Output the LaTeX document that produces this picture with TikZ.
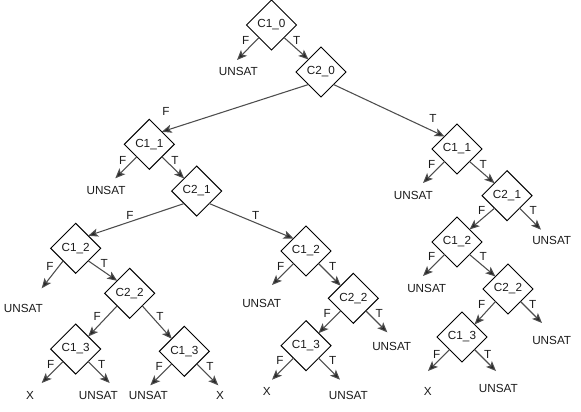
\documentclass[tikz,border=0pt]{standalone}
\usepackage{fontspec}
\setmainfont{Liberation Sans}
\usetikzlibrary{shapes.geometric,arrows.meta,calc}
\definecolor{edgec}{HTML}{4D4D4D}
\definecolor{txtc}{HTML}{1A1A1A}
\begin{document}
\begin{tikzpicture}[x=0.75pt,y=-0.75pt,
  dia/.style={shape=diamond, draw=black, line width=0.75pt, minimum width=37.5pt,
    minimum height=37.5pt, inner sep=0pt, outer sep=0pt, text=txtc,
    font=\fontsize{8.8}{10}\selectfont},
  leaf/.style={inner sep=0pt, text=txtc, font=\fontsize{8.8}{10}\selectfont},
  lbl/.style={inner sep=0pt, text=txtc, font=\fontsize{8.8}{10}\selectfont},
  arr/.style={draw=edgec, line width=0.8pt,
    -{Stealth[length=7.5pt,width=6.2pt,inset=1.8pt,fill=black!85]}}]
\useasboundingbox (0,0) rectangle (581,411);

% diamonds
\node[dia] (a0) at (271.5,25) {C1\_0};
\node[dia] (b0) at (321,72) {C2\_0};
\node[dia] (L1) at (149.3,144.3) {C1\_1};
\node[dia] (L2) at (196.7,191) {C2\_1};
\node[dia] (R1) at (457,149) {C1\_1};
\node[dia] (R2) at (507,195.7) {C2\_1};
\node[dia] (R3) at (457,242) {C1\_2};
\node[dia] (R4) at (508,289) {C2\_2};
\node[dia] (R5) at (462,337) {C1\_3};
\node[dia] (LL3) at (75.7,248.3) {C1\_2};
\node[dia] (LL4) at (129.7,293.3) {C2\_2};
\node[dia] (LL5a) at (75.7,349) {C1\_3};
\node[dia] (LL5b) at (184.3,351.3) {C1\_3};
\node[dia] (LM3) at (306,251) {C1\_2};
\node[dia] (LM4) at (353.3,298.3) {C2\_2};
\node[dia] (LM5) at (306,345.7) {C1\_3};

% leaf texts
\node[leaf] (U0) at (238.3,71.7) {UNSAT};
\node[leaf] (UL1) at (106,190) {UNSAT};
\node[leaf] (UR1) at (413.3,195) {UNSAT};
\node[leaf] (UR2) at (551.7,240.7) {UNSAT};
\node[leaf] (UR3) at (426.7,288.3) {UNSAT};
\node[leaf] (UR4) at (551.7,340.7) {UNSAT};
\node[leaf] (XR5) at (427.7,391.7) {X};
\node[leaf] (UR5) at (498.3,388.3) {UNSAT};
\node[leaf] (ULL3) at (23.3,308.3) {UNSAT};
\node[leaf] (XLL5a) at (30,395) {X};
\node[leaf] (ULL5a) at (98.3,395) {UNSAT};
\node[leaf] (ULL5b) at (148.3,395) {UNSAT};
\node[leaf] (XLL5b) at (220,395) {X};
\node[leaf] (ULM3) at (261.7,303.3) {UNSAT};
\node[leaf] (ULM4) at (391.7,346.7) {UNSAT};
\node[leaf] (XLM5) at (266.7,391.7) {X};
\node[leaf] (ULM5) at (348.3,395) {UNSAT};

% leaf arrow ends
\coordinate (tU0) at ($(a0)+(-34.5,35)$);
\coordinate (tUL1) at ($(L1)+(-34,34)$);
\coordinate (tUR1) at ($(R1)+(-34,34)$);
\coordinate (tUR2) at ($(R2)+(34,34)$);
\coordinate (tUR3) at ($(R3)+(-34,34)$);
\coordinate (tUR4) at ($(R4)+(34,34)$);
\coordinate (tXR5) at ($(R5)+(-34,34)$);
\coordinate (tUR5) at ($(R5)+(34,34)$);
\coordinate (tULL3) at ($(LL3)+(-34,40)$);
\coordinate (tXLL5a) at ($(LL5a)+(-34,34)$);
\coordinate (tULL5a) at ($(LL5a)+(34,34)$);
\coordinate (tULL5b) at ($(LL5b)+(-34,34)$);
\coordinate (tXLL5b) at ($(LL5b)+(34,34)$);
\coordinate (tULM3) at ($(LM3)+(-34,34)$);
\coordinate (tULM4) at ($(LM4)+(34,34)$);
\coordinate (tXLM5) at ($(LM5)+(-34,34)$);
\coordinate (tULM5) at ($(LM5)+(34,34)$);

% connectors
\draw[arr] (a0.south west) -- (tU0);
\draw[arr] (a0.south east) -- (b0.north west);
\draw[arr] (b0.south west) -- (L1.north east);
\draw[arr] (b0.south east) -- (R1.north west);
\draw[arr] (L1.south west) -- (tUL1);
\draw[arr] (L1.south east) -- (L2.north west);
\draw[arr] (L2.south west) -- (LL3.north east);
\draw[arr] (L2.south east) -- (LM3.north west);
\draw[arr] (LL3.south west) -- (tULL3);
\draw[arr] (LL3.south east) -- (LL4.north west);
\draw[arr] (LL4.south west) -- (LL5a.north east);
\draw[arr] (LL4.south east) -- (LL5b.north west);
\draw[arr] (LL5a.south west) -- (tXLL5a);
\draw[arr] (LL5a.south east) -- (tULL5a);
\draw[arr] (LL5b.south west) -- (tULL5b);
\draw[arr] (LL5b.south east) -- (tXLL5b);
\draw[arr] (LM3.south west) -- (tULM3);
\draw[arr] (LM3.south east) -- (LM4.north west);
\draw[arr] (LM4.south west) -- (LM5.north east);
\draw[arr] (LM4.south east) -- (tULM4);
\draw[arr] (LM5.south west) -- (tXLM5);
\draw[arr] (LM5.south east) -- (tULM5);
\draw[arr] (R1.south west) -- (tUR1);
\draw[arr] (R1.south east) -- (R2.north west);
\draw[arr] (R2.south west) -- (R3.north east);
\draw[arr] (R2.south east) -- (tUR2);
\draw[arr] (R3.south west) -- (tUR3);
\draw[arr] (R3.south east) -- (R4.north west);
\draw[arr] (R4.south west) -- (R5.north east);
\draw[arr] (R4.south east) -- (tUR4);
\draw[arr] (R5.south west) -- (tXR5);
\draw[arr] (R5.south east) -- (tUR5);

% F / T labels
\node[lbl] (fa0) at (245.7,40.7) {F};
\node[lbl] (ta0) at (296.7,40.7) {T};
\node[lbl] (fb0) at (166,111.7) {F};
\node[lbl] (tb0) at (433,118) {T};
\node[lbl] (fL1) at (122.7,160) {F};
\node[lbl] (tL1) at (175,160) {T};
\node[lbl] (fL2) at (130,215) {F};
\node[lbl] (tL2) at (255.7,215) {T};
\node[lbl] (fR1) at (431.7,164) {F};
\node[lbl] (tR1) at (483.3,164) {T};
\node[lbl] (fR2) at (481.7,210.7) {F};
\node[lbl] (tR2) at (533.3,210.7) {T};
\node[lbl] (fR3) at (431.7,256.7) {F};
\node[lbl] (tR3) at (483.3,256.7) {T};
\node[lbl] (fR4) at (481.7,304) {F};
\node[lbl] (tR4) at (532.7,304) {T};
\node[lbl] (fR5) at (436.7,354) {F};
\node[lbl] (tR5) at (487.7,354) {T};
\node[lbl] (fLL3) at (50,266.7) {F};
\node[lbl] (tLL3) at (104.3,263.3) {T};
\node[lbl] (fLL4) at (97.3,316.7) {F};
\node[lbl] (tLL4) at (160,316.7) {T};
\node[lbl] (fLL5a) at (50.7,364) {F};
\node[lbl] (tLL5a) at (101.7,364) {T};
\node[lbl] (fLL5b) at (159.3,366.7) {F};
\node[lbl] (tLL5b) at (210,366.7) {T};
\node[lbl] (fLM3) at (280.7,266) {F};
\node[lbl] (tLM3) at (332.7,266) {T};
\node[lbl] (fLM4) at (327.3,313.3) {F};
\node[lbl] (tLM4) at (379.3,313.3) {T};
\node[lbl] (fLM5) at (280,360) {F};
\node[lbl] (tLM5) at (332.7,360) {T};
\end{tikzpicture}
\end{document}
